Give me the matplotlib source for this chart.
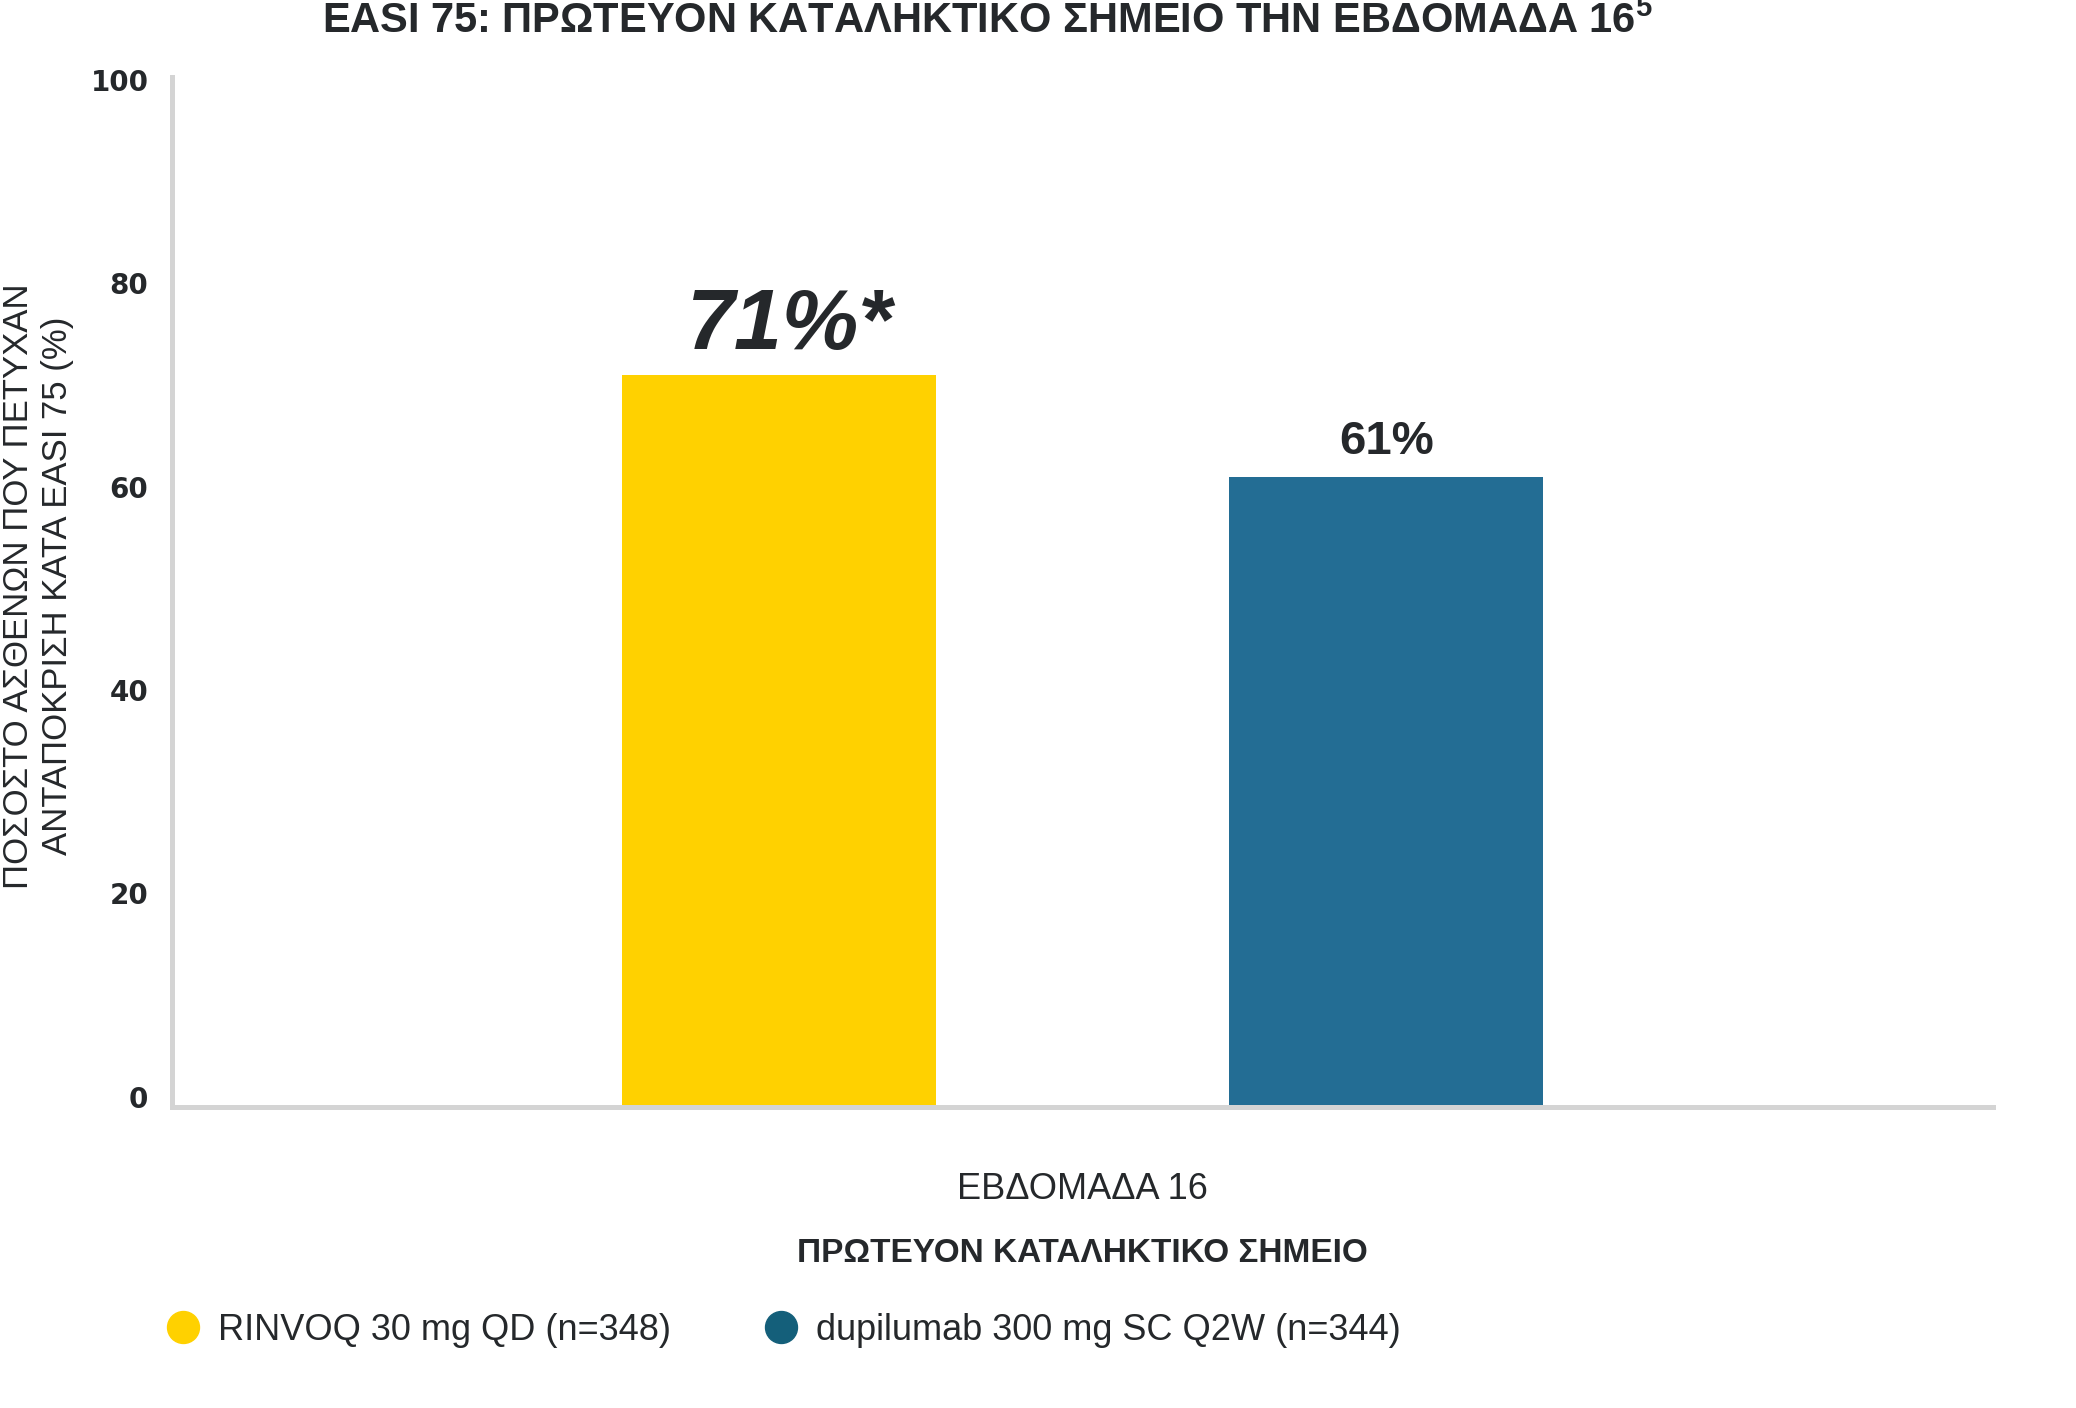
import numpy as np
import matplotlib.pyplot as plt
from matplotlib.lines import Line2D

# values
groups = ["RINVOQ 30 mg QD (n=348)", "dupilumab 300 mg SC Q2W (n=344)"]
values = [71, 61]
value_labels = ["71%*", "61%"]
yticks = [0, 20, 40, 60, 80, 100]

bar_colors = ["#FFD100", "#236D94"]
dot_colors = ["#FFD100", "#145F7A"]
txt = "#25282B"
grid_gray = "#D4D4D4"

plt.rcParams['font.family'] = ['Liberation Sans', 'DejaVu Sans']

fig = plt.figure(figsize=(20.76, 14.08), dpi=100)
ax = fig.add_axes([0.0829, 0.2138, 0.8772, 0.7315])

ymin, ymax = -1, 100.3
x = np.arange(1, len(values) + 1)
# bars sit on the axis line, which is drawn a little below 0
ax.bar(x, np.array(values) - ymin, bottom=ymin, width=0.517, color=bar_colors, zorder=2)
ax.set_xlim(0, 3)
ax.set_ylim(ymin, ymax)

for s in ["top", "right"]:
    ax.spines[s].set_visible(False)
for s in ["left", "bottom"]:
    ax.spines[s].set_color(grid_gray)
    ax.spines[s].set_linewidth(3.6)
    ax.spines[s].set_zorder(3)

ax.set_yticks(yticks)
ax.set_yticklabels([str(t) for t in yticks], family='DejaVu Sans', fontweight='bold',
                   fontsize=20, color=txt)
ax.tick_params(axis='y', length=0, pad=17)

ax.set_xticks([1.5])
ax.set_xticklabels(["ΕΒΔΟΜΑΔΑ 16"], fontsize=26, color=txt)
ax.tick_params(axis='x', length=0, pad=47)
ax.set_xlabel("ΠΡΩΤΕΥΟΝ ΚΑΤΑΛΗΚΤΙΚΟ ΣΗΜΕΙΟ", fontsize=24, fontweight='bold', color=txt, labelpad=22)

ax.text(-0.0736, 0.506, "ΠΟΣΟΣΤΟ ΑΣΘΕΝΩΝ ΠΟΥ ΠΕΤΥΧΑΝ\nΑΝΤΑΠΟΚΡΙΣΗ ΚΑΤΑ EASI 75 (%)",
        transform=ax.transAxes, rotation=90, ha='center', va='center',
        fontsize=25, color=txt, linespacing=1.2, multialignment='center')

# value labels
ax.annotate(value_labels[0], (x[0], values[0]), xytext=(8, 6), textcoords='offset points',
            ha='center', va='bottom', fontsize=62, fontweight='bold', style='italic', color=txt)
ax.annotate(value_labels[1], (x[1], values[1]), xytext=(0, 9), textcoords='offset points',
            ha='center', va='bottom', fontsize=34, fontweight='bold', color=txt)

fig.text(0.4755, 0.9766, "EASI 75: ΠΡΩΤΕΥΟΝ ΚΑΤΑΛΗΚΤΙΚΟ ΣΗΜΕΙΟ ΤΗΝ ΕΒΔΟΜΑΔΑ 16$^{\\mathregular{5}}$",
         ha='center', va='baseline', fontsize=30, fontweight='bold', color=txt)

handles = [Line2D([], [], linestyle='none', marker='o', markersize=23,
                  markerfacecolor=c, markeredgecolor=c) for c in dot_colors]
fig.legend(handles, groups, loc='center left', bbox_to_anchor=(0.0795, 0.0552),
           ncol=2, frameon=False, fontsize=26, handlelength=1, handletextpad=0.47,
           columnspacing=2.55, borderpad=0, borderaxespad=0, labelcolor=txt)

fig.savefig("out.png", dpi=100, facecolor='white')
